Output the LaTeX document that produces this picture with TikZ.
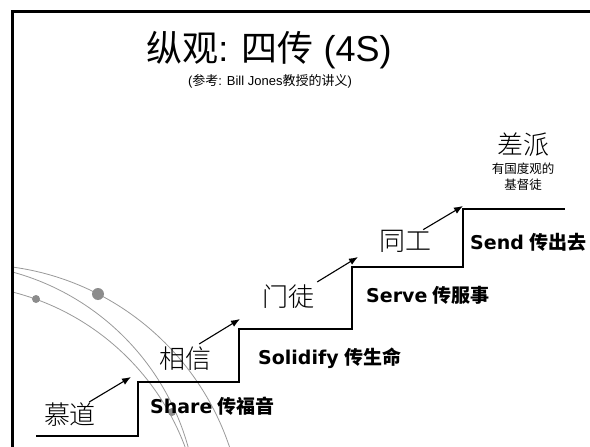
\documentclass[tikz,border=0pt]{standalone}
\usepackage{fontspec}
\setmainfont{Liberation Sans}
\newfontfamily\cjk{Noto Sans CJK SC}
\newfontfamily\cjklight{Noto Sans CJK SC Light}
\newfontfamily\verd{DejaVu Sans}
\usepackage{tikz}
\usetikzlibrary{arrows.meta}
\usetikzlibrary{positioning}
\newcommand{\tasktext}[2]{{\verd #1}\ {\cjk #2}}

\begin{document}
\begin{tikzpicture}[x=1pt,y=-1pt,
    stage/.style={inner sep=0pt,font=\cjklight\fontsize{26}{28}\selectfont},
    task/.style={anchor=west,inner sep=0pt,font=\fontsize{19}{21}\selectfont\bfseries},
    climb/.style={-{Latex[length=9pt,width=7pt]},line width=1.1pt},
    orbit/.style={draw=black!40,line width=0.8pt},
    bead/.style={fill=black!45}]
    \useasboundingbox (0,0) rectangle (590,447);

    % decorative arcs
    \begin{scope}
    \clip (12,11) rectangle (590,447);
    \draw[orbit] (-23.8,531.6) circle[radius=267pt];
    \draw[orbit] (-53.3,513.7) circle[radius=250.4pt];
    \draw[orbit] (-49,534.1) circle[radius=249.7pt];
    \end{scope}
    \fill[bead] (98,294) circle[radius=6pt];
    \fill[bead] (36,299) circle[radius=4pt];
    \fill[bead] (172,412) circle[radius=4pt];

    % frame
    \draw[line width=3pt] (12,460) -- (12,11) -- (600,11);

    \node (title) at (269,50) {\fontsize{36}{40}\selectfont{\cjk 纵观}: {\cjk 四传} (4S)};
    \node (source) at (270,81) {\fontsize{13}{15}\selectfont({\cjk 参考}: Bill Jones{\cjk 教授的讲义})};

    % stairs
    \draw[line width=1.6pt] (36,436) -- (138,436) -- (138,382) -- (239,382) -- (239,329)
        -- (352,329) -- (352,267) -- (463,267) -- (463,209) -- (565,209);

    \node[stage] (seeker) at (70,415) {慕道};
    \node[stage] (believer) at (185,359) {相信};
    \node[stage] (disciple) at (288,297) {门徒};
    \node[stage] (worker) at (405,241) {同工};
    \node[stage] (sent) at (523,145) {差派};
    \node[font=\cjk\fontsize{12.5}{16}\selectfont,align=center,inner sep=0pt] (sentnote) at (523,177) {有国度观的\\基督徒};

    \node[task] (share) at (150,406) {\tasktext{Share}{传福音}};
    \node[task] (solidify) at (258,358) {\tasktext{Solidify}{传生命}};
    \node[task] (serve) at (366,295) {\tasktext{Serve}{传服事}};
    \node[task] (send) at (470,242) {\tasktext{Send}{传出去}};

    \coordinate (up1) at (131,377);
    \coordinate (up2) at (240,319);
    \coordinate (up3) at (358,257);
    \coordinate (up4) at (463,206);

    \draw[climb] ([xshift=-7pt,yshift=1pt]seeker.north east) -- (up1);
    \draw[climb] ([xshift=-12pt,yshift=3pt]believer.north east) -- (up2);
    \draw[climb] ([xshift=3pt,yshift=3pt]disciple.north east) -- (up3);
    \draw[climb] ([xshift=-8pt]worker.north east) -- (up4);
\end{tikzpicture}
\end{document}
